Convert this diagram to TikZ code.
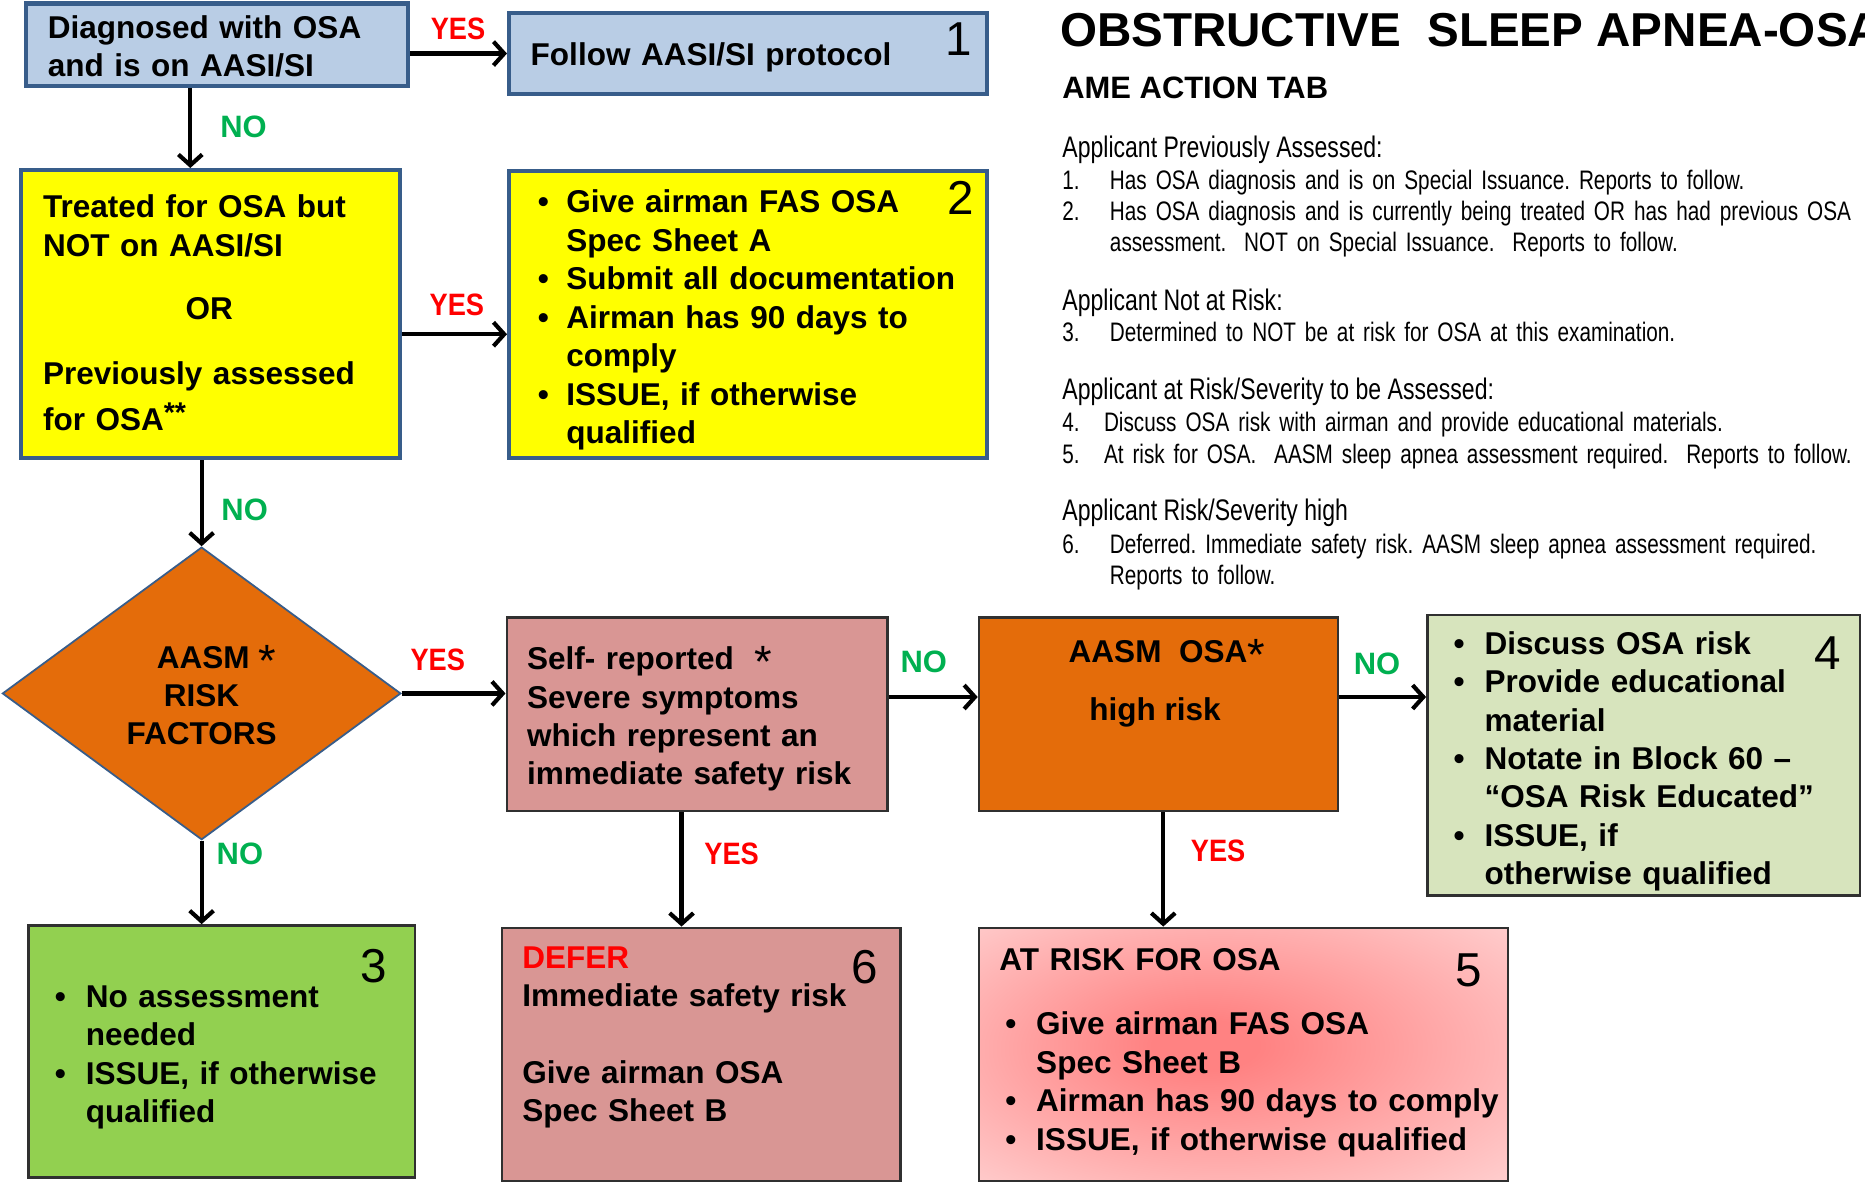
\documentclass[tikz,border=0pt]{standalone}
\usepackage{fontspec}
\setmainfont{Liberation Sans}
\newfontfamily\narrowfont[FakeStretch=0.775]{Liberation Sans}
\newfontfamily\yesfont[FakeStretch=0.88]{Liberation Sans}
\usetikzlibrary{shapes.geometric,arrows.meta,calc}
\definecolor{bluefill}{HTML}{B9CDE5}
\definecolor{blueline}{HTML}{385D8A}
\definecolor{yel}{HTML}{FFFF00}
\definecolor{orng}{HTML}{E46C0A}
\definecolor{pinkfill}{HTML}{D99694}
\definecolor{lgreen}{HTML}{D7E4BD}
\definecolor{greenfill}{HTML}{92D050}
\definecolor{darkline}{HTML}{303030}
\definecolor{yesred}{HTML}{FF0000}
\definecolor{nogreen}{HTML}{00B050}
\definecolor{riskin}{HTML}{FF8282}
\definecolor{riskout}{HTML}{FFD6D6}
\pgfdeclareradialshading{riskshade}{\pgfpoint{-4bp}{2bp}}{color(0bp)=(riskin); color(5bp)=(riskin); color(40bp)=(riskout); color(50bp)=(riskout)}
\newcommand\bul[1]{\makebox[#1][l]{•}}
\newcommand\bigast{\raisebox{-7pt}{\fontsize{38}{38}\selectfont\mdseries *}}
\frenchspacing
\hyphenpenalty=10000
\exhyphenpenalty=10000
\begin{document}
\begin{tikzpicture}[x=1pt,y=-1pt,
  box/.style={rectangle, inner sep=0, draw=darkline, line width=2pt},
  bbox/.style={rectangle, inner sep=0, draw=blueline, line width=3.5pt},
  txt/.style={anchor=base west, inner sep=0, align=left, text width=#1,
    font=\fontsize{26.5}{32.3}\selectfont\bfseries},
  ctxt/.style={anchor=base, inner sep=0, font=\fontsize{26.5}{32.3}\selectfont\bfseries},
  num/.style={anchor=base, inner sep=0, font=\fontsize{40}{42}\selectfont},
  yeslab/.style={anchor=base west, inner sep=0, text=yesred, font=\yesfont\fontsize{26}{28}\selectfont\bfseries},
  nolab/.style={anchor=base west, inner sep=0, text=nogreen, font=\fontsize{26}{28}\selectfont\bfseries},
  para/.style={anchor=base west, inner sep=0, align=left, text width=#1,
    font=\narrowfont\fontsize{22.5}{26.7}\selectfont},
  phead/.style={anchor=base west, inner sep=0, font=\narrowfont\fontsize{25}{28}\selectfont},
  arr/.style={line width=3.5pt, -{Straight Barb[length=9pt,width=20pt]}}
]
\useasboundingbox (0,0) rectangle (1568,994);

% ---------- boxes ----------
\node[bbox, fill=bluefill, minimum width=321pt, minimum height=69pt] (A) at (182.5,37.5) {};
\node[bbox, fill=bluefill, minimum width=402pt, minimum height=68pt] (B1) at (629,45) {};
\node[bbox, fill=yel, minimum width=318pt, minimum height=242pt] (Y) at (177,264) {};
\node[bbox, fill=yel, minimum width=402pt, minimum height=241pt] (B2) at (629,264.5) {};
\node[diamond, inner sep=0, fill=orng, draw=blueline, line width=1.5pt,
      minimum width=335pt, minimum height=246pt] (D) at (169.5,583) {};
\node[box, fill=pinkfill, minimum width=320pt, minimum height=163pt] (S) at (586,600.5) {};
\node[box, fill=orng, minimum width=302pt, minimum height=163pt] (O) at (974,600.5) {};
\node[box, fill=lgreen, minimum width=364pt, minimum height=236pt] (G4) at (1382,635) {};
\node[box, fill=greenfill, minimum width=325pt, minimum height=212pt] (G3) at (186.5,884) {};
\node[box, fill=pinkfill, minimum width=335pt, minimum height=213pt] (D6) at (589.5,886.5) {};
\node[box, shading=riskshade, minimum width=445pt, minimum height=213pt] (B5) at (1045.5,886.5) {};

% ---------- box texts ----------
\node[txt=380pt] (At) at (40,32) {Diagnosed with OSA\\and is on AASI/SI};
\node[txt=380pt] (B1t) at (446,55) {Follow AASI/SI protocol};
\node[num] (n1) at (806,47) {1};

\node[txt=380pt] (Yt1) at (36,183) {Treated for OSA but\\NOT on AASI/SI};
\node[ctxt] (Yor) at (176,269) {OR};
\node[txt=380pt, font=\fontsize{26.5}{39}\selectfont\bfseries] (Yt2) at (36,323) {Previously assessed\\for OSA\raisebox{7pt}{\fontsize{24}{24}\selectfont **}};

\node[txt=500pt] (B2t) at (452,179) {\bul{24pt}Give airman FAS OSA\\
\hspace*{24pt}Spec Sheet A\\
\bul{24pt}Submit all documentation\\
\bul{24pt}Airman has 90 days to\\
\hspace*{24pt}comply\\
\bul{24pt}ISSUE, if otherwise\\
\hspace*{24pt}qualified};
\node[num] (n2) at (808,180) {2};

\node[ctxt] (Dt1) at (182,562) {AASM \bigast};
\node[ctxt] (Dt2) at (169.5,594) {RISK};
\node[ctxt] (Dt3) at (169.5,626) {FACTORS};

\node[txt=500pt] (St) at (443,563) {Self- reported\ \ \bigast\\Severe symptoms\\which represent an\\immediate safety risk};

\node[ctxt] (Ot1) at (981,557) {AASM\ \ OSA\bigast};
\node[ctxt] (Ot2) at (971,606) {high risk};

\node[txt=340pt] (G4t) at (1222,550) {\bul{26pt}Discuss OSA risk\\
\bul{26pt}Provide educational\\
\hspace*{26pt}material\\
\bul{26pt}Notate in Block 60 –\\
\hspace*{26pt}“OSA Risk Educated”\\
\bul{26pt}ISSUE, if\\
\hspace*{26pt}otherwise qualified};
\node[num] (n4) at (1537,563) {4};

\node[txt=500pt] (G3t) at (46,847) {\bul{26pt}No assessment\\
\hspace*{26pt}needed\\
\bul{26pt}ISSUE, if otherwise\\
\hspace*{26pt}qualified};
\node[num] (n3) at (314,826) {3};

\node[txt=500pt] (D6t) at (439,814) {\textcolor{yesred}{DEFER}\\Immediate safety risk\\[32.3pt]Give airman OSA\\Spec Sheet B};
\node[num] (n6) at (727,827) {6};

\node[txt=500pt] (B5h) at (840,816) {AT RISK FOR OSA};
\node[txt=700pt] (B5t) at (845,870) {\bul{26pt}Give airman FAS OSA\\
\hspace*{26pt}Spec Sheet B\\
\bul{26pt}Airman has 90 days to comply\\
\bul{26pt}ISSUE, if otherwise qualified};
\node[num] (n5) at (1235,829) {5};

% ---------- connectors ----------
\draw[arr] (A.east |- B1.west) -- (B1.west);
\draw[arr] ([xshift=-22.5pt]A.south) -- ([xshift=-22.5pt]A.south |- Y.north);
\draw[arr] ([yshift=-17pt]Y.east) -- ([yshift=-17pt]Y.east -| B2.west);
\draw[arr] (Y.south -| D.north) -- (D.north);
\draw[arr] (D.east) -- (D.east -| S.west);
\draw[arr] (D.south) -- (D.south |- G3.north);
\draw[arr] ([yshift=14.5pt]S.east) -- ([yshift=14.5pt]S.east -| O.west);
\draw[arr] ([xshift=-13pt]S.south) -- ([xshift=-13pt]S.south |- D6.north);
\draw[arr] ([yshift=14.5pt]O.east) -- ([yshift=14.5pt]O.east -| G4.west);
\draw[arr] ([xshift=4pt]O.south) -- ([xshift=4pt]O.south |- B5.north);

% ---------- connector labels ----------
\node[yeslab] (l1) at (362,33) {YES};
\node[nolab] (l2) at (185,116) {NO};
\node[yeslab] (l3) at (361,265) {YES};
\node[nolab] (l4) at (186,438) {NO};
\node[yeslab] (l5) at (345,564) {YES};
\node[nolab] (l6) at (182,727) {NO};
\node[nolab] (l7) at (757,565) {NO};
\node[yeslab] (l8) at (592,727) {YES};
\node[nolab] (l9) at (1138,567) {NO};
\node[yeslab] (l10) at (1001,724) {YES};

% ---------- right-hand text ----------
\begin{scope}
\clip (0,0) rectangle (1568,994);
\node[anchor=base west, inner sep=0, font=\fontsize{40}{44}\selectfont\bfseries] (title) at (891,39) {OBSTRUCTIVE\ \ SLEEP APNEA-OSA};
\end{scope}
\node[anchor=base west, inner sep=0, font=\fontsize{26}{30}\selectfont\bfseries] (sub) at (893,83) {AME ACTION TAB};

\node[phead] (h1) at (893,132) {Applicant Previously Assessed:};
\node[para=670pt] (i1) at (893,159) {\makebox[40pt][l]{1.}Has OSA diagnosis and is on Special Issuance. Reports to follow.};
\node[para=670pt] (i2) at (893,185) {\makebox[40pt][l]{2.}Has OSA diagnosis and is currently being treated OR has had previous OSA\\
\hspace*{40pt}assessment.\ \ NOT on Special Issuance.\ \ Reports to follow.};
\node[phead] (h2) at (893,261) {Applicant Not at Risk:};
\node[para=670pt] (i3) at (893,287) {\makebox[40pt][l]{3.}Determined to NOT be at risk for OSA at this examination.};
\node[phead] (h3) at (893,336) {Applicant at Risk/Severity to be Assessed:};
\node[para=670pt] (i4) at (893,363) {\makebox[35pt][l]{4.}Discuss OSA risk with airman and provide educational materials.};
\node[para=670pt] (i5) at (893,390) {\makebox[35pt][l]{5.}At risk for OSA.\ \ AASM sleep apnea assessment required.\ \ Reports to follow.};
\node[phead] (h4) at (893,438) {Applicant Risk/Severity high};
\node[para=670pt] (i6) at (893,465) {\makebox[40pt][l]{6.}Deferred. Immediate safety risk. AASM sleep apnea assessment required.\\
\hspace*{40pt}Reports to follow.};
\end{tikzpicture}
\end{document}
